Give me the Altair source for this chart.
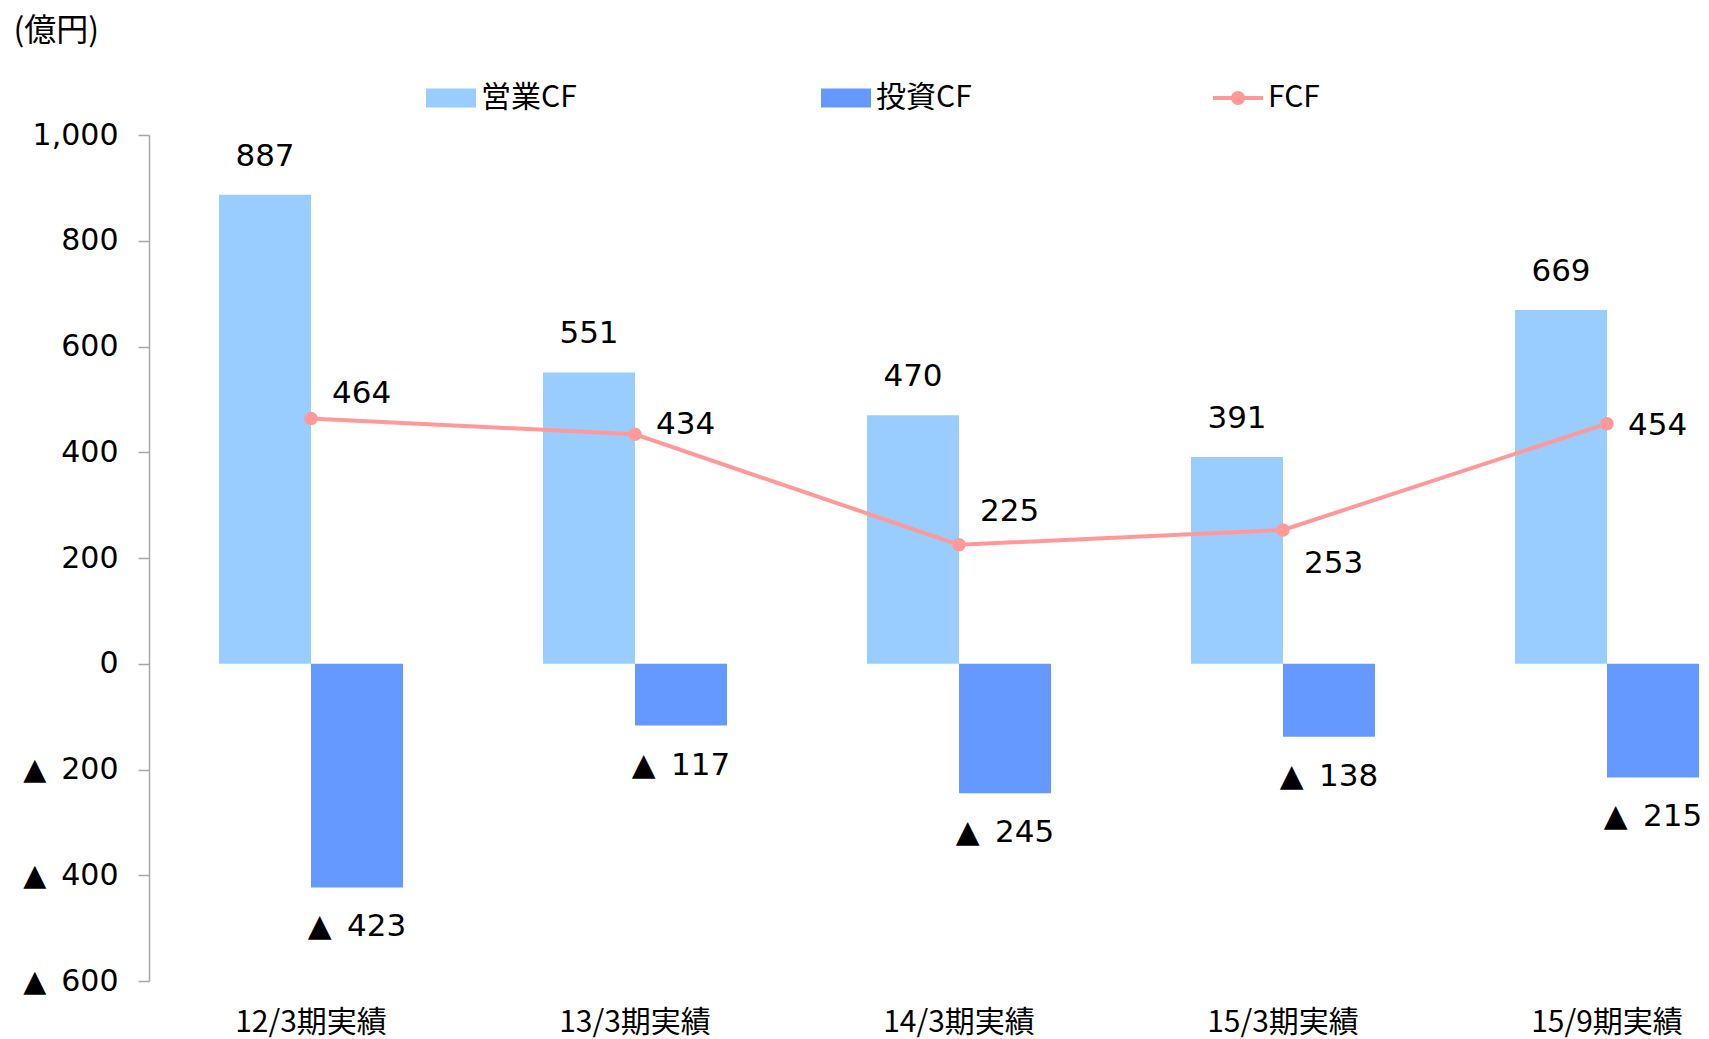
import altair as alt
import pandas as pd

# ---- data ----
categories = ["12/3期実績", "13/3期実績", "14/3期実績", "15/3期実績", "15/9期実績"]
operating_cf = [887, 551, 470, 391, 669]
investing_cf = [-423, -117, -245, -138, -215]
fcf = [464, 434, 225, 253, 454]
bar_series = ["営業CF", "投資CF"]
bar_colors = ["#99CCFF", "#6699FF"]
line_series = ["FCF"]
line_colors = ["#FF9999"]

rows = []
for c, o, i in zip(categories, operating_cf, investing_cf):
    rows.append({"category": c, "series": bar_series[0], "value": o})
    rows.append({"category": c, "series": bar_series[1], "value": i})
bars_df = pd.DataFrame(rows)
fcf_df = pd.DataFrame({"category": categories, "value": fcf, "series": line_series[0]})

# ---- style ----
NUM_FONT = "DejaVu Sans"
JP_FONT = "Noto Sans CJK JP"
TXT = "#000000"
AX = "#A6A6A6"
# label offsets for FCF labels (styling only)
fcf_label_dy = {"12/3期実績": -24, "13/3期実績": -9, "14/3期実績": -33, "15/3期実績": 34, "15/9期実績": 2}

x_enc = alt.X(
    "category:N", sort=categories,
    scale=alt.Scale(range=[0, 1620], paddingInner=0.432, paddingOuter=0.216),
    axis=alt.Axis(title=None, labelAngle=0, domain=False, ticks=False,
                  labelFont=JP_FONT, labelFontSize=30, labelColor=TXT, labelPadding=26),
)
xo_enc = alt.XOffset("series:N", sort=bar_series,
                     scale=alt.Scale(domain=bar_series, paddingInner=0, paddingOuter=0))
y_enc = alt.Y(
    "value:Q",
    scale=alt.Scale(domain=[-600, 1000], nice=False),
    axis=alt.Axis(
        values=list(range(-600, 1001, 200)),
        labelExpr="datum.value < 0 ? '▲\u2002' + format(-datum.value, ',') : format(datum.value, ',')",
        grid=False, domainColor=AX, tickColor=AX, tickSize=11, domainWidth=1.5, tickWidth=1.5,
        labelPadding=20, labelFont=NUM_FONT, labelFontSize=30, labelColor=TXT,
        title="(億円)", titleAngle=0, titleX=-136, titleY=-105, titleAlign="left",
        titleBaseline="middle", titleFont=JP_FONT, titleFontSize=32, titleFontWeight="normal",
        titleColor=TXT,
    ),
)

bars = alt.Chart(bars_df).mark_bar().encode(
    x=x_enc, xOffset=xo_enc, y=y_enc,
    color=alt.Color("series:N", scale=alt.Scale(domain=bar_series, range=bar_colors),
                    legend=alt.Legend(title=None, orient="none", legendX=277, legendY=-62,
                                      direction="horizontal", symbolType="M-1,-0.38H1V0.38H-1Z",
                                      symbolSize=2500, symbolStrokeWidth=0, labelFont=JP_FONT,
                                      labelFontSize=30, labelColor=TXT, labelOffset=5,
                                      columnPadding=244)),
)

op_text = alt.Chart(bars_df).transform_filter(
    alt.datum.series == bar_series[0]
).mark_text(dy=-38, font=NUM_FONT, fontSize=31, color=TXT, baseline="middle").encode(
    x=x_enc, xOffset=xo_enc, y=y_enc, text=alt.Text("value:Q"))

inv_text = alt.Chart(bars_df).transform_filter(
    alt.datum.series == bar_series[1]
).transform_calculate(
    label="'▲\u2002' + (-datum.value)"
).mark_text(dy=40, font=NUM_FONT, fontSize=31, color=TXT, baseline="middle").encode(
    x=x_enc, xOffset=xo_enc, y=y_enc, text="label:N")

line = alt.Chart(fcf_df).mark_line(color=line_colors[0], strokeWidth=4).encode(x=x_enc, y=y_enc)

pts = alt.Chart(fcf_df).mark_circle(size=180, opacity=1).encode(
    x=x_enc, y=y_enc,
    color=alt.Color("series:N", scale=alt.Scale(domain=line_series, range=line_colors),
                    legend=alt.Legend(title=None, orient="none", legendX=1064, legendY=-62,
                                      direction="horizontal",
                                      symbolType="M-1,-0.08H1V0.08H-1Z M-0.28,0A0.28,0.28 0 1,1 0.28,0A0.28,0.28 0 1,1 -0.28,0Z",
                                      symbolSize=2500, symbolStrokeWidth=0, symbolOpacity=1,
                                      labelFont=JP_FONT, labelFontSize=30, labelColor=TXT,
                                      labelOffset=5)),
)

fcf_texts = []
for c in categories:
    fcf_texts.append(
        alt.Chart(fcf_df).transform_filter(alt.datum.category == c)
        .mark_text(dx=21, dy=fcf_label_dy[c], align="left", baseline="middle",
                   font=NUM_FONT, fontSize=31, color=TXT)
        .encode(x=x_enc, y=y_enc, text=alt.Text("value:Q"))
    )

chart = alt.layer(bars, line, pts, op_text, inv_text, *fcf_texts).resolve_scale(
    color="independent"
).properties(
    width=1560, height=846,
    autosize=alt.AutoSizeParams(type="none"),
    padding={"left": 149, "top": 135, "right": 0, "bottom": 58},
    background="white",
).configure_view(stroke=None)

chart.save("out.html", embed_options={"renderer": "svg", "actions": False})
